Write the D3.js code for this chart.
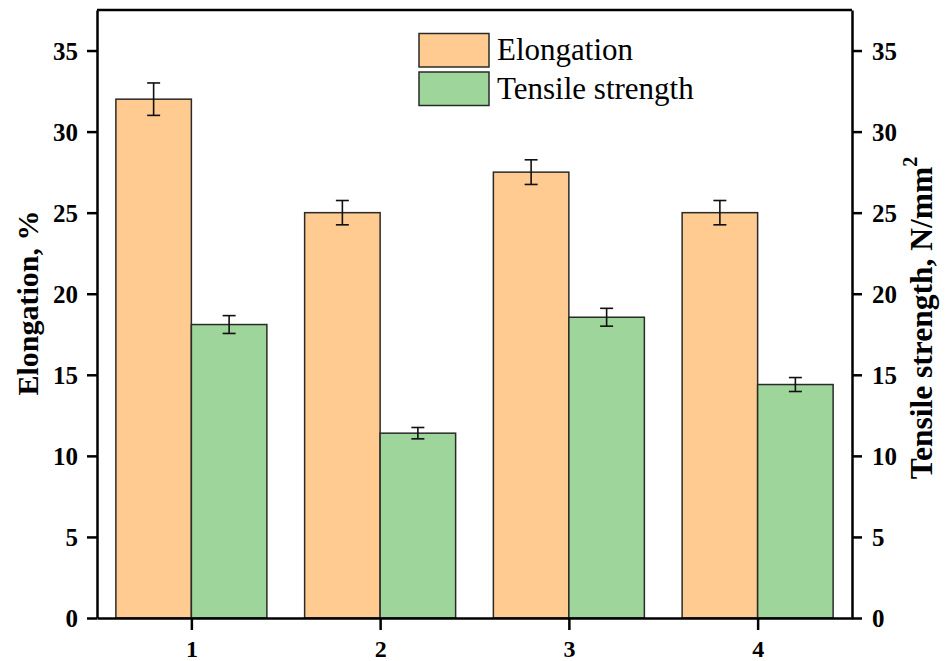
<!DOCTYPE html>
<html><head><meta charset="utf-8">
<script src="https://cdn.jsdelivr.net/npm/d3@7"></script>
<style>html,body{margin:0;padding:0;background:#fff;}svg{display:block;}</style>
</head><body>
<svg id="chart" width="952" height="661"></svg>
<script>
const categories = [1, 2, 3, 4];
const elongation = [32.0, 25.0, 27.5, 25.0];
const elongationErr = [1.0, 0.75, 0.76, 0.75];
const tensile = [18.1, 11.4, 18.55, 14.4];
const tensileErr = [0.55, 0.35, 0.55, 0.43];
const yTicks = [0, 5, 10, 15, 20, 25, 30, 35];
const seriesNames = ["Elongation", "Tensile strength"];
const colors = ["#FFCB91", "#9DD59A"];

const svg = d3.select("#chart");
const L = 97, R = 852, T = 10, B = 618;
const font = "'Liberation Serif','Times New Roman',serif";

const x = d3.scaleLinear().domain([0.5, 4.5]).range([L, R]);
const yL = d3.scaleLinear().domain([0, 37.5]).range([B, T]);
const yR = d3.scaleLinear().domain([0, 37.5]).range([B, T]);
const halfW = 0.4;

// bars
const g = svg.append("g");
const groups = [
  {vals: elongation, errs: elongationErr, off: -halfW, color: colors[0], y: yL},
  {vals: tensile, errs: tensileErr, off: 0, color: colors[1], y: yR}
];
groups.forEach(s => {
  g.selectAll(null).data(categories).enter().append("rect")
    .attr("x", (c) => x(c + s.off))
    .attr("width", x(halfW) - x(0))
    .attr("y", (c, i) => s.y(s.vals[i]))
    .attr("height", (c, i) => s.y(0) - s.y(s.vals[i]))
    .attr("fill", s.color)
    .attr("stroke", "#2a2a2a")
    .attr("stroke-width", 1.5);
});
// error bars
groups.forEach(s => {
  categories.forEach((c, i) => {
    const cx = x(c + s.off + halfW / 2);
    const y1 = s.y(s.vals[i] + s.errs[i]);
    const y2 = s.y(s.vals[i] - s.errs[i]);
    const eg = g.append("g").attr("stroke", "#111").attr("stroke-width", 1.6);
    eg.append("line").attr("x1", cx).attr("x2", cx).attr("y1", y1).attr("y2", y2);
    eg.append("line").attr("x1", cx - 6.5).attr("x2", cx + 6.5).attr("y1", y1).attr("y2", y1);
    eg.append("line").attr("x1", cx - 6.5).attr("x2", cx + 6.5).attr("y1", y2).attr("y2", y2);
  });
});

// axes
function styleAxis(sel) {
  sel.selectAll("path").attr("stroke", "#000").attr("stroke-width", 2.5);
  sel.selectAll("line").attr("stroke", "#000").attr("stroke-width", 2.5);
  sel.selectAll("text").attr("font-family", font).attr("font-weight", "bold")
    .attr("font-size", 25).attr("fill", "#000");
}
const axL = svg.append("g").attr("transform", `translate(${L},0)`)
  .call(d3.axisLeft(yL).tickValues(yTicks).tickSize(10).tickPadding(9).tickSizeOuter(0));
styleAxis(axL);
axL.selectAll("text").attr("dy", "0.34em");
const axR = svg.append("g").attr("transform", `translate(${R},0)`)
  .call(d3.axisRight(yR).tickValues(yTicks).tickSize(10).tickPadding(10).tickSizeOuter(0));
styleAxis(axR);
axR.selectAll("text").attr("dy", "0.34em");
const axB = svg.append("g").attr("transform", `translate(0,${B})`)
  .call(d3.axisBottom(x).tickValues(categories).tickFormat(d3.format("d")).tickSize(12).tickSizeOuter(0));
styleAxis(axB);
axB.selectAll("text").attr("y", 39).attr("dy", null).attr("font-size", 24);
// top frame
svg.append("line").attr("x1", L).attr("x2", R).attr("y1", T).attr("y2", T)
  .attr("stroke", "#000").attr("stroke-width", 2.5);

// axis titles
svg.append("text")
  .attr("transform", `translate(38,${(T + B) / 2 - 11}) rotate(-90)`)
  .attr("text-anchor", "middle").attr("font-family", font).attr("font-weight", "bold")
  .attr("font-size", 30).text("Elongation, %");
const rt = svg.append("text")
  .attr("transform", `translate(932,${(T + B) / 2 + 4}) rotate(-90)`)
  .attr("text-anchor", "middle").attr("font-family", font).attr("font-weight", "bold")
  .attr("font-size", 31.5);
rt.append("tspan").text("Tensile strength, N/mm");
rt.append("tspan").attr("font-size", 20).attr("dy", "-0.75em").text("2");

// legend
const leg = svg.append("g");
const legY = [33.5, 72];
seriesNames.forEach((n, i) => {
  leg.append("rect").attr("x", 419).attr("y", legY[i]).attr("width", 70).attr("height", 33.5)
    .attr("fill", colors[i]).attr("stroke", "#2a2a2a").attr("stroke-width", 1.5);
  leg.append("text").attr("x", 497).attr("y", legY[i] + 26.5)
    .attr("font-family", font).attr("font-size", 31).attr("fill", "#000").text(n);
});
</script>
</body></html>
